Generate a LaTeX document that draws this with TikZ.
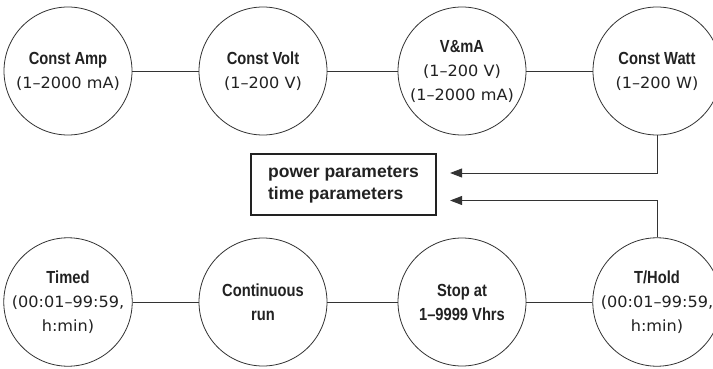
\documentclass[tikz,border=0pt]{standalone}
\usepackage{fontspec}
\setmainfont{DejaVu Sans}[FakeStretch=1.04]
\newfontfamily\ctfont{Liberation Sans}[FakeStretch=0.84]
\newfontfamily\bxfont{Liberation Sans}
\usetikzlibrary{arrows.meta}
\definecolor{txt}{HTML}{222222}
\definecolor{linec}{HTML}{333333}
\newcommand{\ctitle}[1]{{\ctfont\bfseries\fontsize{17.5}{24}\selectfont #1}}
\tikzset{
  circ/.style={circle, draw=linec, line width=0.8pt, minimum size=128pt, inner sep=0pt,
    align=center, text=txt, font=\fontsize{15.5}{24}\selectfont},
  conn/.style={draw=linec, line width=0.8pt},
  arr/.style={draw=linec, line width=0.9pt, -{Triangle[length=12pt,width=9pt]}},
  parbox/.style={draw=txt, line width=2.2pt, minimum width=185pt, minimum height=61pt,
    align=left, text=txt, font=\bxfont\bfseries\fontsize{17.5}{22}\selectfont, inner sep=0pt}
}
\begin{document}
\begin{tikzpicture}[x=1pt,y=-1pt]
\useasboundingbox (0,0) rectangle (713,369);
\fill[white] (0,0) rectangle (713,369);
% top row
\node[circ] (ca) at (68,71) {\ctitle{Const Amp}\\(1–2000 mA)};
\node[circ] (cv) at (263,71) {\ctitle{Const Volt}\\(1–200 V)};
\node[circ] (vma) at (462,71) {\ctitle{V\&mA}\\(1–200 V)\\(1–2000 mA)};
\node[circ] (cw) at (657,71) {\ctitle{Const Watt}\\(1–200 W)};
% bottom row
\node[circ] (tm) at (68,302) {\ctitle{Timed}\\(00:01–99:59,\\h:min)};
\node[circ] (cr) at (263,302) {\ctitle{Continuous}\\\ctitle{run}};
\node[circ] (sa) at (462,302) {\ctitle{Stop at}\\\ctitle{1–9999 Vhrs}};
\node[circ] (th) at (657,302) {\ctitle{T/Hold}\\(00:01–99:59,\\h:min)};
% box
\node[parbox] (pb) at (343.5,184.5) {power parameters\\time parameters};
% connectors
\draw[conn] (ca) -- (cv);
\draw[conn] (cv) -- (vma);
\draw[conn] (vma) -- (cw);
\draw[conn] (tm) -- (cr);
\draw[conn] (cr) -- (sa);
\draw[conn] (sa) -- (th);
\draw[arr] (cw.south) |- ([xshift=13pt,yshift=11.5pt]pb.east);
\draw[arr] (th.north) |- ([xshift=13pt,yshift=-16pt]pb.east);
\end{tikzpicture}
\end{document}
